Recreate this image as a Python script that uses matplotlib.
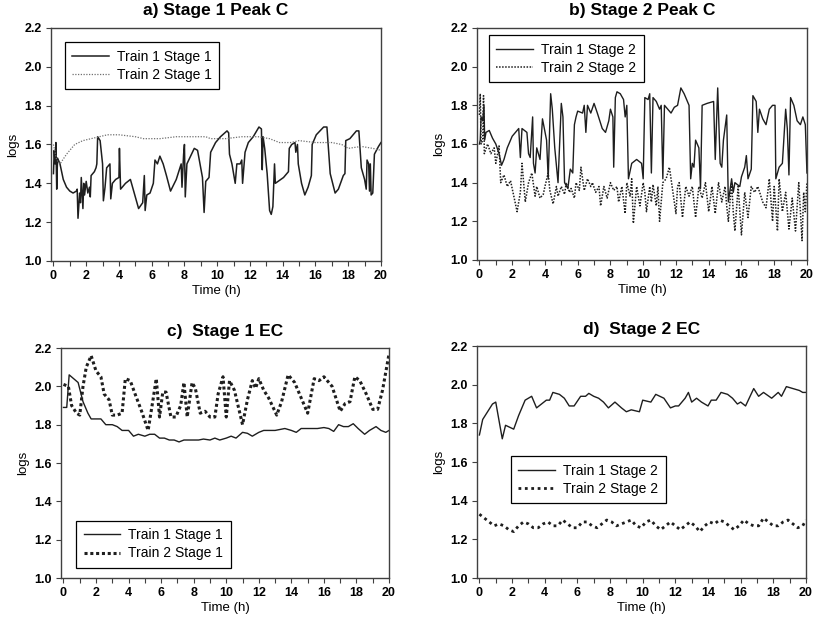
import matplotlib
matplotlib.use('Agg')
import matplotlib.pyplot as plt
from matplotlib.ticker import MultipleLocator, FormatStrFormatter

plt.rcParams['font.family'] = ['Liberation Sans', 'DejaVu Sans']

# ---- a) Stage 1 Peak C ----
a_train1_t = [0.0, 0.05, 0.1, 0.15, 0.2, 0.25, 0.4, 0.6, 0.8, 1.0, 1.2, 1.4, 1.45, 1.5, 1.6, 1.65, 1.7, 1.8,
              1.85, 1.9, 2.0, 2.1, 2.2, 2.25, 2.3, 2.5, 2.6, 2.65, 2.7, 2.85, 3.0, 3.05, 3.15, 3.25, 3.45, 3.5,
              3.6, 3.8, 4.0, 4.03, 4.1, 4.4, 4.7, 5.0, 5.2, 5.45, 5.55, 5.6, 5.7, 5.9, 6.1, 6.2, 6.35, 6.5,
              6.7, 6.9, 7.15, 7.5, 7.8, 7.85, 7.95, 8.0, 8.05, 8.15, 8.6, 8.8, 9.1, 9.2, 9.3, 9.5, 9.6, 9.9,
              10.2, 10.6, 10.7, 10.75, 10.9, 11.1, 11.2, 11.4, 11.5, 11.55, 11.7, 11.9, 12.2, 12.55, 12.7,
              12.75, 12.8, 12.9, 13.05, 13.2, 13.3, 13.4, 13.5, 13.55, 14.05, 14.35, 14.4, 14.55, 14.75, 14.8,
              14.9, 14.95, 15.15, 15.35, 15.55, 15.75, 15.8, 16.05, 16.5, 16.7, 16.9, 17.2, 17.4, 17.7, 17.8,
              17.85, 18.1, 18.5, 18.65, 18.8, 19.0, 19.1, 19.15, 19.25, 19.3, 19.35, 19.4, 19.5, 19.6, 19.85,
              20.0]
a_train1_v = [1.45, 1.57, 1.50, 1.61, 1.37, 1.53, 1.50, 1.42, 1.38, 1.36, 1.35, 1.36, 1.37, 1.22, 1.35, 1.30,
              1.43, 1.27, 1.40, 1.34, 1.41, 1.35, 1.38, 1.33, 1.44, 1.46, 1.48, 1.50, 1.64, 1.62, 1.50, 1.31,
              1.38, 1.48, 1.50, 1.32, 1.40, 1.42, 1.43, 1.58, 1.37, 1.40, 1.42, 1.33, 1.27, 1.30, 1.44, 1.26,
              1.34, 1.35, 1.40, 1.52, 1.50, 1.54, 1.50, 1.44, 1.36, 1.42, 1.50, 1.38, 1.55, 1.60, 1.33, 1.50,
              1.58, 1.57, 1.43, 1.25, 1.41, 1.43, 1.56, 1.61, 1.64, 1.67, 1.66, 1.55, 1.50, 1.40, 1.50, 1.50,
              1.52, 1.40, 1.56, 1.61, 1.64, 1.69, 1.68, 1.47, 1.64, 1.58, 1.45, 1.26, 1.24, 1.28, 1.50, 1.40,
              1.43, 1.46, 1.58, 1.60, 1.61, 1.56, 1.60, 1.50, 1.40, 1.34, 1.38, 1.44, 1.60, 1.65, 1.69, 1.69,
              1.45, 1.35, 1.37, 1.44, 1.45, 1.62, 1.63, 1.67, 1.67, 1.48, 1.42, 1.37, 1.52, 1.50, 1.36, 1.50,
              1.34, 1.35, 1.55, 1.59, 1.61]
a_train2_t = [0.0, 0.2, 0.4, 0.8, 1.3, 1.8, 2.3, 2.8, 3.3, 4.0, 5.0, 5.5, 6.5, 7.5, 8.5, 9.3, 9.6, 10.5,
              11.5, 12.5, 13.2, 13.8, 14.5, 15.0, 16.0, 17.0, 17.6, 18.0, 18.8, 19.5, 20.0]
a_train2_v = [1.60, 1.52, 1.50, 1.55, 1.60, 1.62, 1.63, 1.64, 1.65, 1.65, 1.64, 1.63, 1.63, 1.64, 1.64, 1.64,
              1.63, 1.63, 1.64, 1.64, 1.63, 1.61, 1.61, 1.62, 1.61, 1.61, 1.60, 1.58, 1.59, 1.58, 1.57]

# ---- b) Stage 2 Peak C ----
b_train1_t = [0, 0.05, 0.1, 0.2, 0.28, 0.32, 0.4, 0.6, 0.8, 1.0, 1.2, 1.35, 1.5, 1.7, 2.0, 2.3, 2.4, 2.5, 2.6,
              2.9, 3.0, 3.1, 3.25, 3.3, 3.4, 3.5, 3.7, 3.85, 4.1, 4.2, 4.35, 4.45, 4.6, 4.8, 5.0, 5.1, 5.2, 5.4,
              5.55, 5.7, 5.8, 5.9, 6.0, 6.3, 6.4, 6.5, 6.6, 6.8, 7.0, 7.2, 7.5, 7.7, 7.9, 8.0, 8.15, 8.2, 8.3,
              8.4, 8.6, 8.8, 8.9, 9.0, 9.1, 9.3, 9.6, 9.9, 10.0, 10.1, 10.3, 10.4, 10.5, 10.6, 10.8, 11.0,
              11.1, 11.2, 11.3, 11.5, 11.7, 11.9, 12.1, 12.3, 12.5, 12.7, 12.8, 12.9, 13.0, 13.1, 13.2, 13.4,
              13.5, 13.6, 13.9, 14.3, 14.4, 14.55, 14.7, 14.8, 14.9, 15.1, 15.2, 15.4, 15.5, 15.6, 15.9, 16.0,
              16.2, 16.3, 16.4, 16.6, 16.7, 16.9, 17.0, 17.1, 17.3, 17.5, 17.7, 17.9, 18.05, 18.1, 18.3, 18.5,
              18.7, 18.8, 18.9, 19.0, 19.2, 19.4, 19.6, 19.75, 19.9, 20.0]
b_train1_v = [1.60, 1.62, 1.74, 1.72, 1.80, 1.62, 1.66, 1.67, 1.63, 1.60, 1.55, 1.49, 1.52, 1.58, 1.64, 1.67,
              1.68, 1.53, 1.68, 1.66, 1.55, 1.53, 1.74, 1.50, 1.45, 1.58, 1.52, 1.73, 1.62, 1.42, 1.86, 1.78,
              1.58, 1.40, 1.81, 1.74, 1.40, 1.37, 1.47, 1.45, 1.70, 1.74, 1.77, 1.76, 1.80, 1.66, 1.80, 1.76,
              1.81, 1.76, 1.68, 1.66, 1.72, 1.78, 1.74, 1.48, 1.84, 1.87, 1.86, 1.83, 1.74, 1.80, 1.42, 1.50,
              1.52, 1.50, 1.42, 1.84, 1.83, 1.86, 1.45, 1.84, 1.82, 1.78, 1.80, 1.42, 1.80, 1.78, 1.76, 1.79,
              1.80, 1.89, 1.86, 1.82, 1.80, 1.42, 1.50, 1.48, 1.62, 1.58, 1.37, 1.80, 1.81, 1.82, 1.52, 1.89,
              1.50, 1.48, 1.62, 1.75, 1.30, 1.42, 1.35, 1.40, 1.38, 1.43, 1.48, 1.54, 1.42, 1.47, 1.85, 1.82,
              1.66, 1.78, 1.73, 1.70, 1.78, 1.80, 1.80, 1.42, 1.48, 1.50, 1.78, 1.68, 1.44, 1.84, 1.80, 1.72,
              1.70, 1.74, 1.70, 1.45]
b_train2_t = [0, 0.05, 0.1, 0.2, 0.25, 0.3, 0.5, 0.7, 0.9, 1.0, 1.2, 1.3, 1.5, 1.7, 1.9, 2.1, 2.3, 2.5, 2.6,
              2.8, 3.0, 3.2, 3.4, 3.5, 3.7, 3.9, 4.0, 4.2, 4.3, 4.5, 4.7, 4.8, 5.0, 5.2, 5.3, 5.5, 5.6, 5.8,
              5.9, 6.1, 6.2, 6.4, 6.6, 6.8, 6.9, 7.1, 7.3, 7.4, 7.6, 7.8, 8.0, 8.2, 8.4, 8.5, 8.7, 8.9, 9.0,
              9.2, 9.3, 9.4, 9.6, 9.8, 10.0, 10.1, 10.2, 10.4, 10.5, 10.6, 10.8, 10.9, 11.0, 11.2, 11.4, 11.6,
              11.8, 12.0, 12.1, 12.2, 12.4, 12.6, 12.8, 13.0, 13.2, 13.4, 13.6, 13.8, 14.0, 14.2, 14.4, 14.6,
              14.8, 15.0, 15.1, 15.2, 15.4, 15.5, 15.6, 15.8, 16.0, 16.2, 16.4, 16.6, 16.8, 17.0, 17.3, 17.5,
              17.7, 17.9, 18.0, 18.2, 18.3, 18.5, 18.7, 18.9, 19.1, 19.3, 19.5, 19.7, 19.8, 19.9, 20.0]
b_train2_v = [1.75, 1.86, 1.60, 1.62, 1.85, 1.55, 1.60, 1.55, 1.58, 1.50, 1.59, 1.40, 1.44, 1.38, 1.41, 1.33,
              1.25, 1.35, 1.50, 1.30, 1.40, 1.45, 1.33, 1.38, 1.32, 1.34, 1.38, 1.45, 1.36, 1.29, 1.38, 1.33,
              1.38, 1.34, 1.40, 1.35, 1.37, 1.32, 1.40, 1.36, 1.48, 1.36, 1.42, 1.38, 1.40, 1.35, 1.38, 1.28,
              1.38, 1.32, 1.40, 1.36, 1.38, 1.30, 1.38, 1.24, 1.40, 1.33, 1.42, 1.19, 1.38, 1.28, 1.40, 1.35,
              1.25, 1.38, 1.30, 1.39, 1.28, 1.38, 1.20, 1.40, 1.42, 1.48, 1.36, 1.24, 1.38, 1.40, 1.22, 1.38,
              1.33, 1.38, 1.22, 1.38, 1.32, 1.40, 1.25, 1.38, 1.24, 1.40, 1.30, 1.38, 1.28, 1.20, 1.40, 1.25,
              1.15, 1.38, 1.13, 1.35, 1.22, 1.38, 1.35, 1.38, 1.30, 1.27, 1.42, 1.20, 1.38, 1.15, 1.42, 1.25,
              1.35, 1.16, 1.32, 1.15, 1.40, 1.10, 1.35, 1.25, 1.40]

# ---- c) Stage 1 EC ----
c_train1_t = [0, 0.2, 0.35, 0.9, 1.2, 1.5, 1.7, 2.0, 2.3, 2.6, 3.0, 3.3, 3.6, 4.0, 4.3, 4.6, 5.0, 5.3, 5.6,
              5.9, 6.2, 6.5, 6.8, 7.1, 7.4, 7.7, 8.0, 8.3, 8.6, 9.0, 9.3, 9.6, 10.0, 10.3, 10.6, 11.0, 11.3,
              11.6, 12.0, 12.3, 12.6, 13.0, 13.3, 13.6, 14.0, 14.3, 14.6, 15.0, 15.3, 15.6, 16.0, 16.3, 16.6,
              16.9, 17.2, 17.5, 17.8, 18.1, 18.5, 18.8, 19.2, 19.5, 19.8, 20.0]
c_train1_v = [1.89, 1.89, 2.06, 2.02, 1.92, 1.86, 1.83, 1.83, 1.83, 1.80, 1.80, 1.79, 1.77, 1.77, 1.74, 1.75,
              1.74, 1.75, 1.75, 1.73, 1.73, 1.72, 1.72, 1.71, 1.72, 1.72, 1.72, 1.72, 1.725, 1.72, 1.73, 1.72,
              1.73, 1.74, 1.73, 1.76, 1.755, 1.74, 1.76, 1.77, 1.77, 1.77, 1.775, 1.78, 1.77, 1.76, 1.78, 1.78,
              1.78, 1.78, 1.785, 1.78, 1.765, 1.80, 1.79, 1.79, 1.805, 1.78, 1.75, 1.77, 1.79, 1.77, 1.76, 1.77]
c_train2_t = [0, 0.3, 0.5, 0.8, 1.0, 1.2, 1.4, 1.7, 2.0, 2.3, 2.5, 2.8, 3.0, 3.3, 3.6, 3.8, 4.1, 4.4, 4.8,
              5.2, 5.5, 5.7, 5.9, 6.1, 6.3, 6.6, 6.9, 7.2, 7.4, 7.6, 7.9, 8.1, 8.4, 8.7, 9.0, 9.3, 9.5, 9.8,
              10.0, 10.2, 10.5, 11.0, 11.3, 11.6, 11.8, 12.0, 12.3, 12.6, 13.1, 13.4, 13.8, 14.2, 14.6, 15.0,
              15.4, 15.7, 16.0, 16.5, 17.0, 17.3, 17.6, 17.9, 18.2, 18.6, 19.0, 19.3, 19.6, 20.0]
c_train2_v = [2.01, 2.00, 1.90, 1.86, 1.85, 2.00, 2.10, 2.16, 2.08, 2.05, 1.96, 1.93, 1.85, 1.85, 1.86, 2.04,
              2.03, 1.96, 1.87, 1.77, 1.93, 2.04, 1.84, 1.97, 1.97, 1.84, 1.84, 1.90, 2.02, 1.84, 2.02, 1.99,
              1.86, 1.87, 1.84, 1.84, 1.96, 2.05, 1.84, 2.03, 1.98, 1.80, 1.93, 2.03, 1.99, 2.04, 1.98, 1.94,
              1.85, 1.92, 2.06, 2.02, 1.94, 1.86, 2.04, 2.03, 2.05, 2.00, 1.87, 1.91, 1.92, 2.05, 2.03, 1.96,
              1.88, 1.88, 1.98, 2.17]

# ---- d) Stage 2 EC ----
d_train1_t = [0, 0.2, 0.5, 0.8, 1.0, 1.4, 1.6, 2.1, 2.4, 2.8, 3.2, 3.5, 3.8, 4.1, 4.3, 4.5, 4.9, 5.2, 5.5,
              5.8, 6.2, 6.5, 6.7, 7.0, 7.3, 7.6, 7.9, 8.3, 8.7, 9.0, 9.3, 9.8, 10.0, 10.5, 10.8, 11.3, 11.7,
              12.0, 12.2, 12.6, 12.8, 13.0, 13.3, 13.6, 14.0, 14.2, 14.5, 14.8, 15.2, 15.5, 15.8, 16.0, 16.3,
              16.8, 17.1, 17.4, 17.9, 18.3, 18.5, 18.8, 19.2, 19.6, 19.8, 20.0]
d_train1_v = [1.74, 1.82, 1.86, 1.90, 1.91, 1.72, 1.79, 1.77, 1.84, 1.92, 1.94, 1.88, 1.90, 1.92, 1.92, 1.96,
              1.95, 1.93, 1.89, 1.89, 1.94, 1.94, 1.955, 1.94, 1.93, 1.91, 1.88, 1.91, 1.88, 1.86, 1.87, 1.86,
              1.92, 1.91, 1.95, 1.93, 1.88, 1.89, 1.89, 1.93, 1.96, 1.91, 1.93, 1.91, 1.89, 1.92, 1.92, 1.96,
              1.95, 1.93, 1.90, 1.91, 1.89, 1.98, 1.94, 1.96, 1.93, 1.96, 1.94, 1.99, 1.98, 1.97, 1.96, 1.96]
d_train2_t = [0, 0.3, 0.6, 0.9, 1.2, 1.5, 1.8, 2.1, 2.4, 2.7, 3.0, 3.3, 3.6, 3.9, 4.2, 4.5, 4.8, 5.1, 5.4,
              5.7, 6.0, 6.3, 6.6, 6.9, 7.2, 7.5, 7.8, 8.1, 8.4, 8.7, 9.0, 9.3, 9.6, 9.9, 10.2, 10.5, 10.8,
              11.1, 11.4, 11.7, 12.0, 12.3, 12.6, 12.9, 13.2, 13.5, 13.8, 14.1, 14.4, 14.7, 15.0, 15.3, 15.6,
              15.9, 16.2, 16.5, 16.8, 17.1, 17.4, 17.7, 18.0, 18.3, 18.6, 18.9, 19.2, 19.5, 19.8, 20.0]
d_train2_v = [1.33, 1.31, 1.29, 1.27, 1.28, 1.27, 1.25, 1.24, 1.27, 1.29, 1.28, 1.26, 1.26, 1.28, 1.29, 1.27,
              1.27, 1.30, 1.28, 1.26, 1.26, 1.29, 1.29, 1.27, 1.26, 1.28, 1.30, 1.29, 1.27, 1.28, 1.29, 1.30,
              1.27, 1.26, 1.29, 1.30, 1.27, 1.25, 1.27, 1.29, 1.27, 1.25, 1.27, 1.29, 1.27, 1.24, 1.27, 1.29,
              1.28, 1.30, 1.29, 1.27, 1.25, 1.27, 1.30, 1.28, 1.27, 1.27, 1.31, 1.29, 1.27, 1.27, 1.29, 1.30,
              1.28, 1.26, 1.27, 1.30]

LINE = '#1e1e1e'
SPINE = '#404040'


def formatar_eixo(ax, titulo):
    """Box, ticks and labels shared by the four panels."""
    ax.set_xlim(-0.15, 20)
    ax.set_ylim(1.0, 2.2)
    ax.set_xticks(range(0, 21, 2))
    ax.xaxis.set_minor_locator(MultipleLocator(1))
    ax.set_yticks([1.0, 1.2, 1.4, 1.6, 1.8, 2.0, 2.2])
    ax.yaxis.set_major_formatter(FormatStrFormatter('%.1f'))
    ax.tick_params(which='both', direction='out', length=3.5, width=0.8, color=SPINE,
                   labelsize=9, pad=3)
    for lab in ax.get_xticklabels() + ax.get_yticklabels():
        lab.set_fontweight('bold')
    for sp in ax.spines.values():
        sp.set_color(SPINE)
        sp.set_linewidth(1.0)
    ax.set_xlabel('Time (h)', fontsize=9.5, labelpad=2)
    ax.set_ylabel('logs', fontsize=9.5, labelpad=4)
    ax.set_title(titulo, fontsize=12.5, fontweight='bold', pad=9)


def legenda(ax, loc, anchor):
    leg = ax.legend(loc=loc, bbox_to_anchor=anchor, fontsize=10, frameon=True, fancybox=False,
                    edgecolor='black', framealpha=1, borderaxespad=0, borderpad=0.55,
                    labelspacing=0.3, handlelength=2.6, handletextpad=0.6)
    leg.get_frame().set_linewidth(0.9)


fig = plt.figure(figsize=(8.17, 6.22), dpi=100)

ax_a = fig.add_axes([0.0624, 0.5804, 0.4039, 0.3746])
ax_a.plot(a_train1_t, a_train1_v, color=LINE, lw=1.1, label='Train 1 Stage 1')
ax_a.plot(a_train2_t, a_train2_v, color='#707070', lw=0.9, linestyle=(0, (1, 1.2)), label='Train 2 Stage 1')
formatar_eixo(ax_a, 'a) Stage 1 Peak C')
legenda(ax_a, 'upper left', (0.042, 0.94))

ax_b = fig.add_axes([0.5838, 0.582, 0.4039, 0.373])
ax_b.plot(b_train1_t, b_train1_v, color=LINE, lw=1.0, label='Train 1 Stage 2')
ax_b.plot(b_train2_t, b_train2_v, color=LINE, lw=1.1, linestyle=(0, (1, 1)), label='Train 2 Stage 2')
formatar_eixo(ax_b, 'b) Stage 2 Peak C')
legenda(ax_b, 'upper left', (0.036, 0.97))

ax_c = fig.add_axes([0.0747, 0.0707, 0.4015, 0.3698])
ax_c.plot(c_train1_t, c_train1_v, color=LINE, lw=1.0, label='Train 1 Stage 1')
ax_c.plot(c_train2_t, c_train2_v, color=LINE, lw=2.2, linestyle=(0, (1, 0.9)), label='Train 2 Stage 1')
formatar_eixo(ax_c, 'c)  Stage 1 EC')
legenda(ax_c, 'lower left', (0.046, 0.043))

ax_d = fig.add_axes([0.5838, 0.0707, 0.4027, 0.373])
ax_d.plot(d_train1_t, d_train1_v, color=LINE, lw=1.0, label='Train 1 Stage 2')
ax_d.plot(d_train2_t, d_train2_v, color=LINE, lw=2.0, linestyle=(0, (1, 1.3)), label='Train 2 Stage 2')
formatar_eixo(ax_d, 'd)  Stage 2 EC')
legenda(ax_d, 'upper left', (0.103, 0.526))

fig.savefig('out.png', dpi=100)
